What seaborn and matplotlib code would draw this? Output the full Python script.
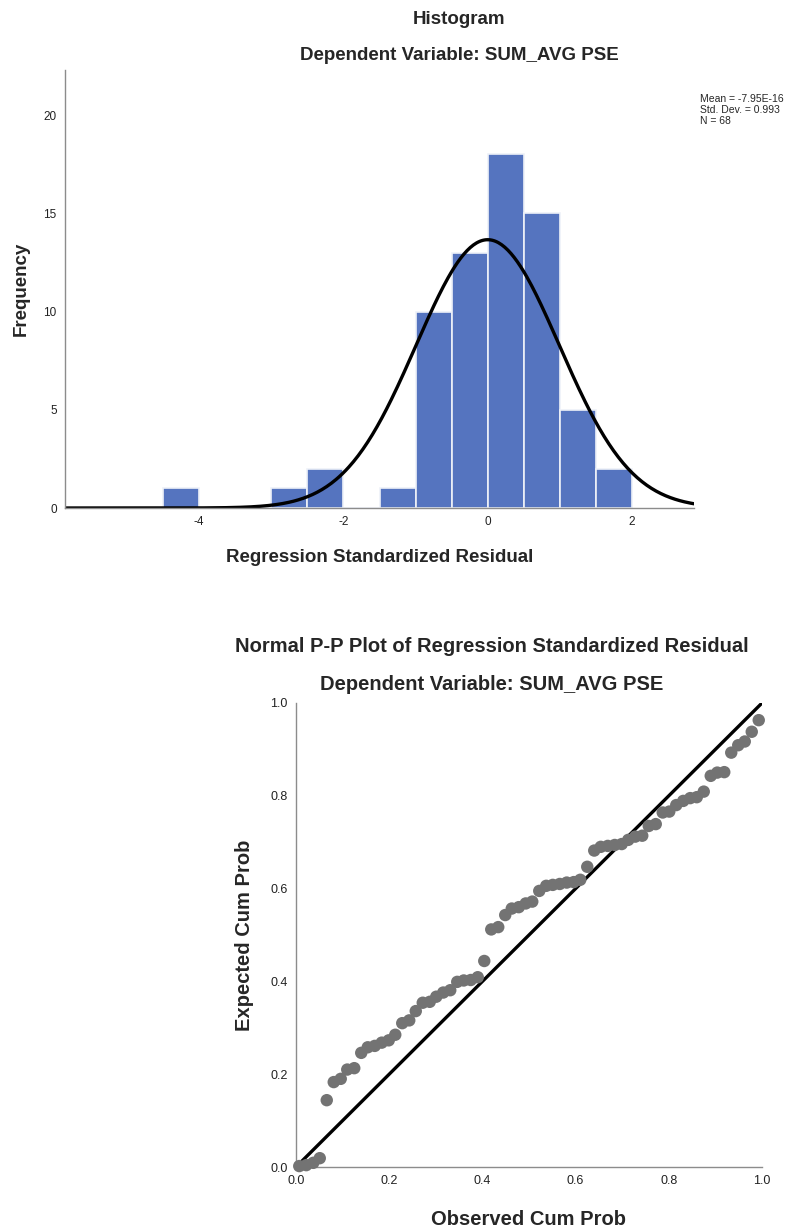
import numpy as np
import pandas as pd
import seaborn as sns
import matplotlib.pyplot as plt
from matplotlib.ticker import FormatStrFormatter

# histogram data (bin edges of width 0.5, counts)
bin_lefts = [-4.5, -4.0, -3.5, -3.0, -2.5, -2.0, -1.5, -1.0, -0.5, 0.0, 0.5, 1.0, 1.5]
bin_counts = [1, 0, 0, 1, 2, 0, 1, 10, 13, 18, 15, 5, 2]
res_mean = -7.95e-16
res_sd = 0.993
res_n = 68

# P-P plot data
observed_cum = [0.007, 0.022, 0.037, 0.051, 0.066, 0.081, 0.096, 0.110, 0.125, 0.140,
                0.154, 0.169, 0.184, 0.199, 0.213, 0.228, 0.243, 0.257, 0.272, 0.287,
                0.301, 0.316, 0.331, 0.346, 0.360, 0.375, 0.390, 0.404, 0.419, 0.434,
                0.449, 0.463, 0.478, 0.493, 0.507, 0.522, 0.537, 0.551, 0.566, 0.581,
                0.596, 0.610, 0.625, 0.640, 0.654, 0.669, 0.684, 0.699, 0.713, 0.728,
                0.743, 0.757, 0.772, 0.787, 0.801, 0.816, 0.831, 0.846, 0.860, 0.875,
                0.890, 0.904, 0.919, 0.934, 0.949, 0.963, 0.978, 0.993]
expected_cum = [0.002, 0.004, 0.009, 0.019, 0.144, 0.183, 0.190, 0.210, 0.213, 0.246,
                0.258, 0.261, 0.268, 0.273, 0.285, 0.310, 0.316, 0.336, 0.354, 0.356,
                0.367, 0.376, 0.381, 0.399, 0.402, 0.403, 0.409, 0.444, 0.512, 0.517,
                0.543, 0.557, 0.560, 0.568, 0.572, 0.595, 0.606, 0.608, 0.610, 0.613,
                0.614, 0.619, 0.647, 0.682, 0.690, 0.692, 0.694, 0.696, 0.705, 0.712,
                0.714, 0.735, 0.739, 0.764, 0.766, 0.780, 0.789, 0.795, 0.797, 0.809,
                0.843, 0.850, 0.851, 0.893, 0.909, 0.917, 0.938, 0.963]

sns.set_style("white")
plt.rcParams['font.family'] = ['Liberation Sans', 'DejaVu Sans']
plt.rcParams['axes.unicode_minus'] = False

W, H = 804, 1230
fig = plt.figure(figsize=(W / 100, H / 100), dpi=100)

def px_axes(l, t, r, b):
    return fig.add_axes([l / W, 1 - b / H, (r - l) / W, (b - t) / H])

def style_axes(ax, size):
    sns.despine(ax=ax)
    for s in ['left', 'bottom']:
        ax.spines[s].set_color('#8c8c8c')
        ax.spines[s].set_linewidth(1.0)
    ax.tick_params(length=0, labelsize=size, colors='#222222', pad=6)

# ---- histogram ----
ax1 = px_axes(65, 70, 694, 508)
binw = 0.5
hist_df = pd.DataFrame({'x': np.array(bin_lefts) + binw / 2, 'w': bin_counts})
edges = list(bin_lefts) + [bin_lefts[-1] + binw]
sns.histplot(data=hist_df, x='x', weights='w', bins=edges, ax=ax1,
             color='#5574bf', edgecolor='#eef1f8', linewidth=1.2, alpha=1)
xs = np.linspace(-5.86, 2.86, 400)
curve = res_n * binw * np.exp(-0.5 * ((xs - res_mean) / res_sd) ** 2) / (res_sd * np.sqrt(2 * np.pi))
sns.lineplot(x=xs, y=curve, ax=ax1, color='black', linewidth=2.4)
ax1.set_xlim(-5.86, 2.86)
ax1.set_ylim(0, 22.3)
ax1.set_xticks([-4, -2, 0, 2])
ax1.set_yticks([0, 5, 10, 15, 20])
ax1.set_xlabel('Regression Standardized Residual', fontsize=13.5, fontweight='bold', labelpad=15)
ax1.set_ylabel('Frequency', fontsize=13.5, fontweight='bold', labelpad=10)
style_axes(ax1, 8.5)

fig.text(459 / W, 1 - 20 / H, 'Histogram', ha='center', va='center', fontsize=13.5, fontweight='bold')
fig.text(459 / W, 1 - 56 / H, 'Dependent Variable: SUM_AVG PSE', ha='center', va='center',
         fontsize=13.5, fontweight='bold')
fig.text(700 / W, 1 - 94 / H, 'Mean = -7.95E-16\nStd. Dev. = 0.993\nN = 68', ha='left', va='top',
         fontsize=7.5, linespacing=1.15)

# ---- P-P plot ----
ax2 = px_axes(296, 703, 762, 1167)
sns.lineplot(x=[0, 1], y=[0, 1], ax=ax2, color='black', linewidth=2.4)
sns.scatterplot(x=observed_cum, y=expected_cum, ax=ax2, color='#737373', s=80,
                edgecolor='none', zorder=3, clip_on=False)
ax2.set_xlim(0, 1)
ax2.set_ylim(0, 1)
ticks = [0, 0.2, 0.4, 0.6, 0.8, 1.0]
ax2.set_xticks(ticks)
ax2.set_yticks(ticks)
ax2.xaxis.set_major_formatter(FormatStrFormatter('%.1f'))
ax2.yaxis.set_major_formatter(FormatStrFormatter('%.1f'))
ax2.set_xlabel('Observed Cum Prob', fontsize=14.5, fontweight='bold', labelpad=16)
ax2.set_ylabel('Expected Cum Prob', fontsize=14.5, fontweight='bold', labelpad=12)
style_axes(ax2, 9)

fig.text(492 / W, 1 - 647 / H, 'Normal P-P Plot of Regression Standardized Residual', ha='center',
         va='center', fontsize=14.5, fontweight='bold')
fig.text(492 / W, 1 - 685 / H, 'Dependent Variable: SUM_AVG PSE', ha='center', va='center',
         fontsize=14.5, fontweight='bold')

fig.savefig('out.png', dpi=100)
